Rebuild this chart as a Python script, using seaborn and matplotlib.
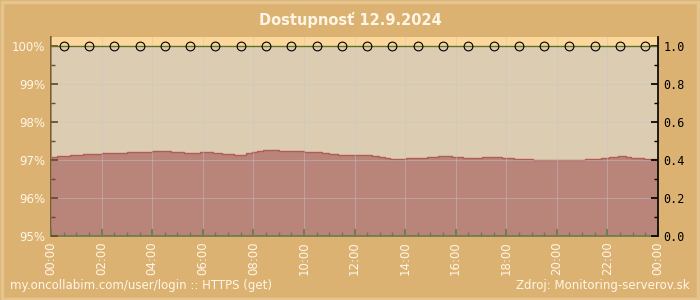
import matplotlib
matplotlib.use("Agg")
import matplotlib.pyplot as plt
import seaborn as sns
import pandas as pd
import numpy as np
from matplotlib.patches import Rectangle
from matplotlib.ticker import MultipleLocator

# ---- data ----
title = "Dostupnosť 12.9.2024"
footer_left = "my.oncollabim.com/user/login :: HTTPS (get)"
footer_right = "Zdroj: Monitoring-serverov.sk"

# availability step series: start hour of each step and value in %
step_hours = [0.0, 0.25, 0.75, 1.25, 2.0, 3.0, 4.0, 4.75, 5.25, 5.9, 6.4, 6.75,
              7.25, 7.7, 7.95, 8.15, 8.4, 9.0, 10.0, 10.7, 11.0, 11.35, 12.7,
              12.95, 13.2, 13.4, 14.05, 14.85, 15.3, 15.85, 16.3, 17.05, 17.85,
              18.3, 19.05, 21.1, 21.75, 22.05, 22.4, 22.75, 22.95, 23.45, 24.0]
step_values = [97.08, 97.11, 97.13, 97.16, 97.18, 97.20, 97.23, 97.20, 97.18,
               97.20, 97.18, 97.15, 97.14, 97.18, 97.21, 97.24, 97.26, 97.24,
               97.21, 97.18, 97.15, 97.13, 97.11, 97.08, 97.05, 97.03, 97.05,
               97.08, 97.11, 97.08, 97.05, 97.08, 97.05, 97.03, 97.00, 97.03,
               97.05, 97.08, 97.11, 97.08, 97.05, 97.03, 97.03]

# hourly status points (right axis)
status_hours = [0.5, 1.5, 2.5, 3.5, 4.5, 5.5, 6.5, 7.5, 8.5, 9.5, 10.5, 11.5,
                12.5, 13.5, 14.5, 15.5, 16.5, 17.5, 18.5, 19.5, 20.5, 21.5, 22.5, 23.5]
status_values = [1.0] * 24

x_ticks = [0, 2, 4, 6, 8, 10, 12, 14, 16, 18, 20, 22, 24]
x_labels = ["00:00", "02:00", "04:00", "06:00", "08:00", "10:00", "12:00",
            "14:00", "16:00", "18:00", "20:00", "22:00", "00:00"]
y_ticks = [95, 96, 97, 98, 99, 100]
y_labels = ["95%", "96%", "97%", "98%", "99%", "100%"]
y2_ticks = [0.0, 0.2, 0.4, 0.6, 0.8, 1.0]

# ---- style ----
sns.set_theme(style="white")
plt.rcParams['font.family'] = ['DejaVu Sans']

BG = "#dcb273"
PLOT_BG = "#dccdb2"
BAND = "#fcd79b"
FILL = "#b9847a"
EDGE = "#b15c55"
LIGHT = "#fff6e6"

fig = plt.figure(figsize=(7, 3), dpi=100, facecolor=BG)
fig.patches.append(Rectangle((0.003, 0.005), 0.994, 0.99, transform=fig.transFigure,
                             fill=False, edgecolor="#e6c48e", linewidth=2.5))
ax = fig.add_axes([51/700, 1-236/300, (658-51)/700, (236-37)/300])
ax.set_facecolor(PLOT_BG)

df = pd.DataFrame({"hour": step_hours, "avail": step_values})
ax.axhspan(100, 101, color=BAND, zorder=0)
ax.fill_between(df["hour"], 95, df["avail"], step="post", color=FILL, zorder=1, linewidth=0)
sns.lineplot(data=df, x="hour", y="avail", drawstyle="steps-post", color=EDGE,
             linewidth=1.0, ax=ax, zorder=2)

ax.set_xlim(0, 24)
ax.set_ylim(95, 95 + (236-37)/38)
ax.set_xticks(x_ticks)
ax.set_xticklabels(x_labels, rotation=90, color=LIGHT, fontsize=8.5)
ax.set_yticks(y_ticks)
ax.set_yticklabels(y_labels, color=LIGHT, fontsize=8.5)
ax.xaxis.set_minor_locator(MultipleLocator(0.5))
ax.yaxis.set_minor_locator(MultipleLocator(0.5))
ax.tick_params(axis="x", which="major", direction="in", length=5, color="#6b7a4a", pad=4, bottom=True)
ax.tick_params(axis="x", which="minor", direction="in", length=3, color="#6b7a4a", bottom=True)
ax.tick_params(axis="y", which="major", direction="in", length=5, color="#6b4a20", pad=4, left=True)
ax.tick_params(axis="y", which="minor", direction="in", length=3, color="#6b4a20", left=True)
ax.grid(True, which="major", color="#c4c4cc", linewidth=0.7, alpha=0.45, zorder=3)
ax.set_axisbelow(False)
ax.set_xlabel("")
ax.set_ylabel("")
for s in ["top", "right"]:
    ax.spines[s].set_visible(False)
ax.spines["left"].set_color("#6b4a20")
ax.spines["bottom"].set_color("#6b7a4a")
ax.spines["left"].set_linewidth(1.2)
ax.spines["bottom"].set_linewidth(1.2)

ax2 = ax.twinx()
sdf = pd.DataFrame({"hour": status_hours, "status": status_values})
ax2.plot([0, 24], [1.0, 1.0], color="#62702e", linewidth=1.0, zorder=2)
sns.lineplot(data=sdf, x="hour", y="status", ax=ax2, linestyle="none", marker="o",
             markersize=6.3, markerfacecolor="none", markeredgecolor="black",
             markeredgewidth=0.8, zorder=3)
ax2.set_ylim(0, (236-37)/190)
ax2.set_xlim(0, 24)
ax2.set_yticks(y2_ticks)
ax2.set_yticklabels([f"{v:.1f}" for v in y2_ticks], family="DejaVu Sans Mono",
                    fontsize=8.5, color="black")
ax2.yaxis.set_minor_locator(MultipleLocator(0.1))
ax2.tick_params(axis="y", which="major", direction="in", length=5, color="black", pad=4, right=True)
ax2.tick_params(axis="y", which="minor", direction="in", length=3, color="black", right=True)
ax2.set_ylabel("")
ax2.set_xlabel("")
for s in ["top", "left", "bottom"]:
    ax2.spines[s].set_visible(False)
ax2.spines["right"].set_color("black")
ax2.spines["right"].set_linewidth(1.2)

fig.text(0.5, 1-20/300, title, ha="center", va="center", fontsize=10.5,
         fontweight="bold", color=LIGHT)
fig.text(10/700, 1-286/300, footer_left, ha="left", va="center", fontsize=8.5, color=LIGHT)
fig.text(690/700, 1-286/300, footer_right, ha="right", va="center", fontsize=8.5, color=LIGHT)

fig.savefig("out.png", dpi=100, facecolor=BG)
